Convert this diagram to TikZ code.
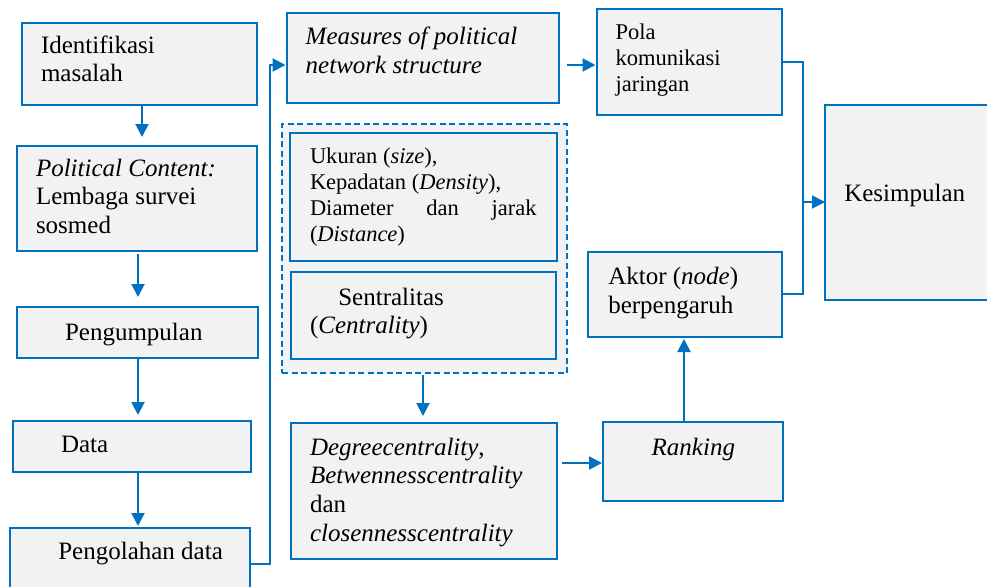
\documentclass[tikz,border=0pt]{standalone}
\usepackage{fontspec}
\setmainfont{Liberation Serif}
\usetikzlibrary{arrows.meta}
\definecolor{bblue}{HTML}{0070C0}
\definecolor{bfill}{HTML}{F2F2F2}
\newcommand\mylines[2]{\vtop{\baselineskip=#1pt\relax #2}}
\begin{document}
\begin{tikzpicture}[x=1pt,y=-1pt,
  box/.style={draw=bblue,fill=bfill,line width=2pt,rectangle,inner sep=0pt,outer sep=0pt,anchor=north west},
  dbox/.style={box,dash pattern=on 6pt off 3.5pt},
  txt/.style={anchor=base west,inner sep=0pt,outer sep=0pt,font=\fontsize{25}{28}\selectfont},
  stxt/.style={txt,font=\fontsize{22.5}{26}\selectfont},
  conn/.style={draw=bblue,line width=2pt},
  arr/.style={conn,-{Triangle[length=13pt,width=13pt]}}]
\useasboundingbox (0,0) rectangle (987,586);
\clip (0,0) rectangle (987,586);
% boxes
\node[box,minimum width=235pt,minimum height=82pt] (b1) at (22,23) {};
\node[box,minimum width=240pt,minimum height=105pt] (b2) at (17,146) {};
\node[box,minimum width=241pt,minimum height=51pt] (b3) at (17,307) {};
\node[box,minimum width=238pt,minimum height=51pt] (b4) at (13,421) {};
\node[box,minimum width=240pt,minimum height=80pt] (b5) at (10,528) {};
\node[box,minimum width=272pt,minimum height=90pt] (b6) at (287,13) {};
\node[dbox,minimum width=285pt,minimum height=249pt] (gd) at (282,124) {};
\node[box,minimum width=267pt,minimum height=128pt] (b7) at (290,133) {};
\node[box,minimum width=265pt,minimum height=87pt] (b8) at (291,272) {};
\node[box,minimum width=266pt,minimum height=136pt] (b9) at (291,423) {};
\node[box,minimum width=185pt,minimum height=106pt] (b10) at (597,9) {};
\node[box,minimum width=194pt,minimum height=85pt] (b11) at (588,252) {};
\node[box,minimum width=180pt,minimum height=79pt] (b12) at (603,422) {};
\node[box,minimum width=170pt,minimum height=195pt] (b13) at (825,105) {};
% texts
\node[txt] (t1) at (41,53.3) {\mylines{28.4}{\hbox{Identifikasi}\hbox{masalah}}};
\node[txt] (t2) at (36,176.7) {\mylines{28.2}{\hbox{\textit{Political Content:}}\hbox{Lembaga survei}\hbox{sosmed}}};
\node[txt] (t3) at (65,340) {Pengumpulan};
\node[txt] (t4) at (61,452.3) {Data};
\node[txt] (t5) at (58.3,559.3) {Pengolahan data};
\node[txt] (t6) at (305.7,45) {\mylines{28.3}{\hbox{\textit{Measures of political}}\hbox{\textit{network structure}}}};
\node[stxt] (t7) at (310,163.3) {\mylines{26.1}{\hbox{Ukuran (\textit{size}),}\hbox{Kepadatan (\textit{Density}),}\hbox to 226.7pt{Diameter\hfill dan\hfill jarak}\hbox{(\textit{Distance})}}};
\node[txt] (t8) at (310,305) {\mylines{28.3}{\hbox{\kern28.3pt Sentralitas}\hbox{(\textit{Centrality})}}};
\node[txt] (t9) at (310,455) {\mylines{28.9}{\hbox{\textit{Degreecentrality},}\hbox{\textit{Betwennesscentrality}}\hbox{dan}\hbox{\textit{closennesscentrality}}}};
\node[stxt] (t10) at (615.7,40) {\mylines{25.9}{\hbox{Pola}\hbox{komunikasi}\hbox{jaringan}}};
\node[txt] (t11) at (608.3,284) {\mylines{29.3}{\hbox{Aktor (\textit{node})}\hbox{berpengaruh}}};
\node[txt] (t12) at (651.7,455) {\textit{Ranking}};
\node[txt] (t13) at (844.3,201.7) {Kesimpulan};
% connector guide points
\coordinate (cx1) at (142,0);
\coordinate (cx2) at (138,0);
\coordinate (cx9) at (423,0);
\coordinate (cx12) at (684,0);
\coordinate (jl) at (270,0);
\coordinate (jr) at (803,0);
\coordinate (cy5) at (0,564);
\coordinate (cy6) at (0,65);
\coordinate (cy10) at (0,62);
\coordinate (cy11) at (0,294);
\coordinate (cy13) at (0,202);
\coordinate (cy9) at (0,463);
% connectors
\draw[arr,shorten >=9pt] (cx1 |- b1.south) -- (cx1 |- b2.north);
\draw[arr,shorten <=3pt,shorten >=10pt] (cx2 |- b2.south) -- (cx2 |- b3.north);
\draw[arr,shorten >=6pt] (cx2 |- b3.south) -- (cx2 |- b4.north);
\draw[arr,shorten >=2pt] (cx2 |- b4.south) -- (cx2 |- b5.north);
\draw[arr,shorten >=1.5pt] (b5.east |- cy5) -| (jl |- cy6) -- (b6.west |- cy6);
\draw[arr,shorten <=8pt,shorten >=1.5pt] (b6.east |- cy6) -- (b10.west |- cy6);
\draw[conn] (b10.east |- cy10) -| (jr |- cy11) -- (b11.east |- cy11);
\draw[arr] (jr |- cy13) -- (b13.west |- cy13);
\draw[arr,shorten <=2pt,shorten >=7pt] (cx9 |- gd.south) -- (cx9 |- b9.north);
\draw[arr,shorten <=5pt,shorten >=1pt] (b9.east |- cy9) -- (b12.west |- cy9);
\draw[arr,shorten >=2pt] (cx12 |- b12.north) -- (cx12 |- b11.south);
\end{tikzpicture}
\end{document}
